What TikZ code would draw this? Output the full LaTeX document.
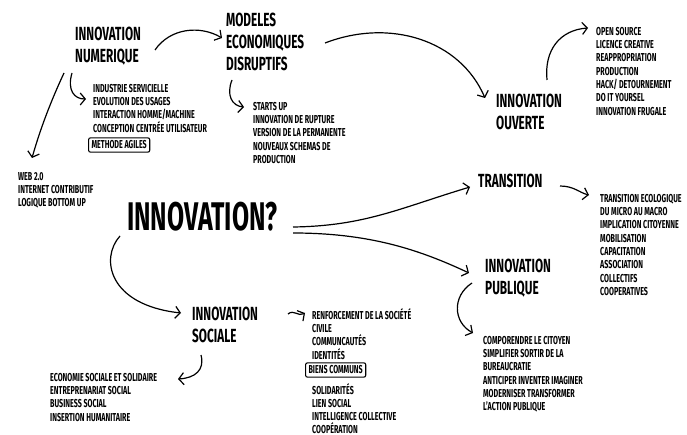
\documentclass[tikz,border=0pt]{standalone}
\usepackage{fontspec}
\setmainfont[FakeStretch=0.62]{Fira Sans}
\usetikzlibrary{arrows.meta}
\tikzset{
  head/.style={anchor=north west, inner sep=0pt, align=left, font=\bfseries\fontsize{19}{22}\selectfont},
  big/.style={anchor=north west, inner sep=0pt, font=\bfseries\fontsize{39}{44}\selectfont},
  items/.style={anchor=north west, inner sep=0pt, align=left, font=\bfseries\fontsize{11.5}{13.3}\selectfont},
  boxed/.style={draw, line width=1.1pt, rounded corners=2pt, inner xsep=3pt, inner ysep=3pt, font=\bfseries\fontsize{11.5}{13.3}\selectfont},
  link/.style={line width=1.2pt, -{Straight Barb[length=5pt,width=12pt,line width=1.2pt]}}
}
\begin{document}
\begin{tikzpicture}[x=1pt,y=-1pt]
\useasboundingbox (0,0) rectangle (687,435);

% headings
\node[head] (num) at (75,27) {INNOVATION\\NUMERIQUE};
\node[head] (mod) at (226,13) {MODELES\\ECONOMIQUES\\DISRUPTIFS};
\node[head] (ouv) at (496,94) {INNOVATION\\OUVERTE};
\node[head] (tra) at (478,174) {TRANSITION};
\node[head] (pub) at (485,259) {INNOVATION\\PUBLIQUE};
\node[head] (soc) at (192,307) {INNOVATION\\SOCIALE};
\node[big, font=\bfseries\fontsize{40}{44}\selectfont] (inn) at (127,202) {INNOVATION?};

% lists
\node[items] (numl) at (93,84) {INDUSTRIE SERVICIELLE\\EVOLUTION DES USAGES\\INTERACTION HOMME/MACHINE\\CONCEPTION CENTRÉE UTILISATEUR};
\node[boxed, anchor=west] (agile) at (88,145) {METHODE AGILES};
\node[items] (web) at (18,172) {WEB 2.0\\INTERNET CONTRIBUTIF\\LOGIQUE BOTTOM UP};
\node[items] (modl) at (253,102) {STARTS UP\\INNOVATION DE RUPTURE\\VERSION DE LA PERMANENTE\\NOUVEAUX SCHEMAS DE\\PRODUCTION};
\node[items] (ouvl) at (596,27) {OPEN SOURCE\\LICENCE CREATIVE\\REAPPROPRIATION\\PRODUCTION\\HACK/ DETOURNEMENT\\DO IT YOURSEL\\INNOVATION FRUGALE};
\node[items] (tral) at (600,194) {TRANSITION ECOLOGIQUE\\DU MICRO AU MACRO\\IMPLICATION CITOYENNE\\MOBILISATION\\CAPACITATION\\ASSOCIATION\\COLLECTIFS\\COOPERATIVES};
\node[items] (publ) at (483,336) {COMPORENDRE LE CITOYEN\\SIMPLIFIER SORTIR DE LA\\BUREAUCRATIE\\ANTICIPER INVENTER IMAGINER\\MODERNISER TRANSFORMER\\L'ACTION PUBLIQUE};
\node[items] (socl) at (312,308) {RENFORCEMENT DE LA SOCIÉTÉ\\CIVILE\\COMMUNCAUTÉS\\IDENTITÉS};
\node[boxed, anchor=west] (biens) at (305,370) {BIENS COMMUNS};
\node[items, font=\bfseries\fontsize{11.5}{13}\selectfont] (socm) at (312,383) {SOLIDARITÉS\\LIEN SOCIAL\\INTELLIGENCE COLLECTIVE\\COOPÉRATION};
\node[items] (eco) at (50,373) {ECONOMIE SOCIALE ET SOLIDAIRE\\ENTREPRENARIAT SOCIAL\\BUSINESS SOCIAL\\INSERTION HUMANITAIRE};

% arrow end points
\coordinate (a1s) at (155,50);  \coordinate (a1e) at (222,38);
\coordinate (a2s) at (325,43);  \coordinate (a2e) at (485,98);
\coordinate (a3s) at (547,80);  \coordinate (a3e) at (588,28);
\coordinate (a4s) at (72,73);   \coordinate (a4e) at (86,99);
\coordinate (a5s) at (64,73);   \coordinate (a5e) at (32,158);
\coordinate (a6s) at (232,80);  \coordinate (a6e) at (244,107);
\coordinate (a7s) at (293,227); \coordinate (a7e) at (470,187);
\coordinate (a8s) at (293,233); \coordinate (a8e) at (469,273);
\coordinate (a9s) at (120,236); \coordinate (a9e) at (181,313);
\coordinate (b1s) at (288,314); \coordinate (b1e) at (305,313);
\coordinate (b2s) at (201,355); \coordinate (b2e) at (178,379);
\coordinate (b3s) at (560,186); \coordinate (b3e) at (589,195);
\coordinate (b4s) at (472,283); \coordinate (b4e) at (473,333);

% connectors
\draw[link] (a1s) .. controls (170,28) and (200,25) .. (a1e);
\draw[link] (a2s) .. controls (390,18) and (460,40) .. (a2e);
\draw[link] (a3s) .. controls (544,50) and (560,30) .. (a3e);
\draw[link] (a4s) .. controls (67,90) and (74,99) .. (a4e);
\draw[link] (a5s) .. controls (50,103) and (40,130) .. (a5e);
\draw[link] (a6s) .. controls (226,95) and (232,106) .. (a6e);
\draw[link] (a7s) .. controls (365,226) and (400,208) .. (a7e);
\draw[link] (a8s) .. controls (370,233) and (420,250) .. (a8e);
\draw[link] (a9s) .. controls (100,258) and (108,305) .. (a9e);
\draw[link] (b1s) .. controls (294,309) and (298,317) .. (b1e);
\draw[link] (b2s) .. controls (205,370) and (195,378) .. (b2e);
\draw[link] (b3s) .. controls (574,186) and (580,193) .. (b3e);
\draw[link] (b4s) .. controls (452,296) and (453,322) .. (b4e);
\end{tikzpicture}
\end{document}
